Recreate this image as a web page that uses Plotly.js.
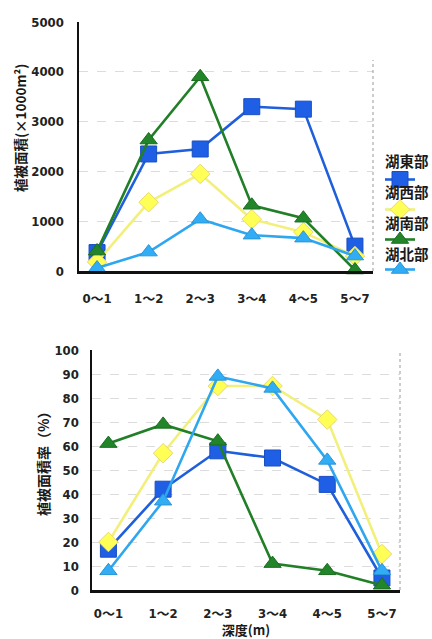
<!DOCTYPE html>
<html>
<head>
<meta charset="utf-8">
<script src="https://cdn.plot.ly/plotly-3.0.1.min.js"></script>
<style>html,body{margin:0;padding:0;background:#fff;}#chart{width:432px;height:639px;}</style>
</head>
<body>
<div id="chart"></div>
<script>
// ---- data ----
const depthCategories = ["0～1", "1～2", "2～3", "3～4", "4～5", "5～7"];
const seriesNames = ["湖東部", "湖西部", "湖南部", "湖北部"];
// vegetation area (×1000 m²)
const areaEast  = [370, 2350, 2450, 3300, 3250, 500];
const areaWest  = [180, 1380, 1950, 1040, 780, 300];
const areaSouth = [400, 2630, 3900, 1320, 1060, 20];
const areaNorth = [60, 380, 1040, 720, 660, 300];
// vegetation area ratio (%)
const rateEast  = [17, 42, 58, 55, 44, 5];
const rateWest  = [20, 57, 85, 85, 71, 15];
const rateSouth = [61, 69, 62, 11, 8, 2];
const rateNorth = [8, 37, 89, 84, 54, 8];
const areaTicks = [0, 1000, 2000, 3000, 4000, 5000];
const rateTicks = [0, 10, 20, 30, 40, 50, 60, 70, 80, 90, 100];
const areaTitle = "植被面積(×1000m²)";
const rateTitle = "植被面積率（%）";
const depthTitle = "深度(m)";

// ---- styles ----
const styles = [
  {line: "#1f5fdc", fill: "#1e5fe6", edge: "#1a4fc0", symbol: "square", size: 16},
  {line: "#f2f07a", fill: "#ffff55", edge: "#e8d870", symbol: "diamond", size: 15},
  {line: "#217f27", fill: "#23852a", edge: "#1b6e20", symbol: "triangle-up", size: 15},
  {line: "#2ea6f0", fill: "#31adf5", edge: "#2a95d8", symbol: "triangle-up", size: 15}
];
const areaSeries = [areaEast, areaWest, areaSouth, areaNorth];
const rateSeries = [rateEast, rateWest, rateSouth, rateNorth];

const W = 432, H = 639;
const px = v => v / W;
const py = v => 1 - v / H;

const traces = [];
areaSeries.forEach((vals, i) => {
  const s = styles[i];
  traces.push({
    type: "scatter", mode: "lines+markers",
    x: depthCategories, y: vals, name: "", legendgroup: "g" + i,
    xaxis: "x", yaxis: "y", showlegend: true,
    line: {color: s.line, width: 2.6},
    marker: {symbol: s.symbol, size: s.size, color: s.fill, line: {color: s.edge, width: 1}},
    cliponaxis: false
  });
});
rateSeries.forEach((vals, i) => {
  const s = styles[i];
  traces.push({
    type: "scatter", mode: "lines+markers",
    x: depthCategories, y: vals, name: seriesNames[i], legendgroup: "g" + i,
    xaxis: "x2", yaxis: "y2", showlegend: false,
    line: {color: s.line, width: 2.6},
    marker: {symbol: s.symbol, size: s.size, color: s.fill, line: {color: s.edge, width: 1}},
    cliponaxis: false
  });
});

const tickFont = {family: "DejaVu Sans Condensed, Liberation Sans Narrow, Noto Sans CJK JP, sans-serif", size: 13, color: "#222", weight: "bold"};
const jpFont = {family: "Noto Sans CJK JP, sans-serif", size: 13, color: "#1a1a1a", weight: "bold"};

const axisCommon = {
  showline: true, linecolor: "#111", linewidth: 2.5,
  ticks: "", showgrid: true, gridcolor: "#dcdcdc", griddash: "dash", gridwidth: 1,
  zeroline: false, tickfont: tickFont, fixedrange: true
};

const annotations = seriesNames.map((n, i) => ({
  text: n, xref: "paper", yref: "paper", x: px(407), y: py(161 + i * 30.7),
  xanchor: "center", yanchor: "middle", showarrow: false,
  font: {family: "Noto Sans CJK JP, sans-serif", size: 14.5, color: "#1a1a1a", weight: "bold"}
}));
annotations.push({
  text: areaTitle, xref: "paper", yref: "paper", x: px(20), y: py(128),
  xanchor: "center", yanchor: "middle", textangle: -90, showarrow: false,
  font: {family: "Noto Sans CJK JP, sans-serif", size: 13.5, color: "#1a1a1a", weight: "bold"}
});
annotations.push({
  text: rateTitle, xref: "paper", yref: "paper", x: px(43), y: py(461),
  xanchor: "center", yanchor: "middle", textangle: -90, showarrow: false,
  font: {family: "Noto Sans CJK JP, sans-serif", size: 14, color: "#1a1a1a", weight: "bold"}
});

const layout = {
  width: W, height: H,
  margin: {l: 0, r: 0, t: 0, b: 0},
  paper_bgcolor: "#fff", plot_bgcolor: "#fff",
  showlegend: true,
  legend: {x: px(380), y: py(165), xanchor: "left", yanchor: "top",
           font: {size: 12}, tracegroupgap: 11, bgcolor: "rgba(0,0,0,0)", itemwidth: 30},
  xaxis: Object.assign({}, axisCommon, {
    domain: [px(79), px(373)], anchor: "y", type: "category",
    range: [-0.35, 5.35], showgrid: false, ticklabelstandoff: 14
  }),
  yaxis: Object.assign({}, axisCommon, {
    domain: [py(271), py(22)], anchor: "x", range: [0, 5000],
    tickvals: areaTicks, ticklabelstandoff: 10
  }),
  xaxis2: Object.assign({}, axisCommon, {
    domain: [px(92), px(400)], anchor: "y2", type: "category",
    range: [-0.3, 5.33], showgrid: false, ticklabelstandoff: 10,
    title: {text: depthTitle, font: jpFont, standoff: 4}
  }),
  yaxis2: Object.assign({}, axisCommon, {
    domain: [py(590), py(350)], anchor: "x2", range: [0, 100],
    tickvals: rateTicks, ticklabelstandoff: 8
  }),
  shapes: [
    {type: "line", xref: "paper", yref: "paper", x0: px(373), x1: px(373), y0: py(271), y1: py(60),
     line: {color: "#999", width: 1, dash: "dot"}},
    {type: "line", xref: "paper", yref: "paper", x0: px(400), x1: px(400), y0: py(590), y1: py(352),
     line: {color: "#999", width: 1, dash: "dot"}}
  ],
  annotations: annotations
};

Plotly.newPlot("chart", traces, layout, {displayModeBar: false, staticPlot: true});
</script>
</body>
</html>
